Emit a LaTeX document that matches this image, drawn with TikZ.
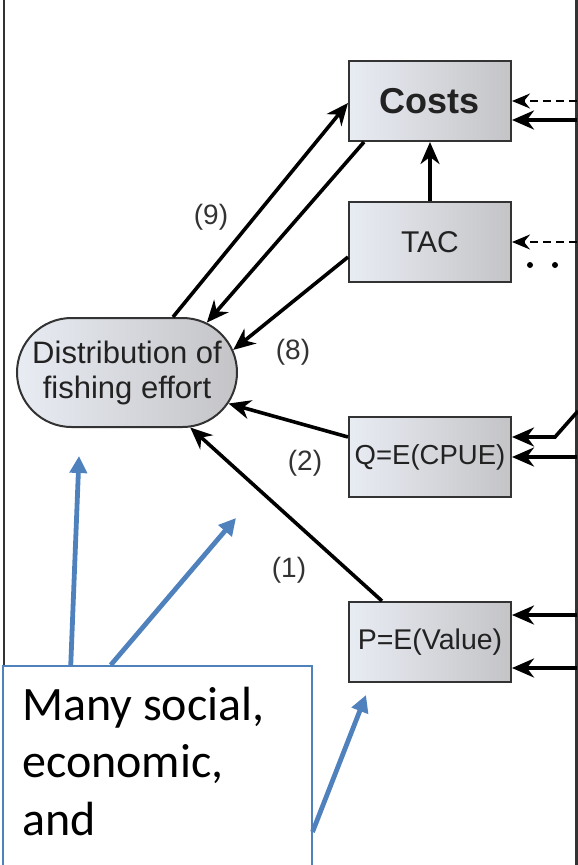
\documentclass[tikz,border=0pt]{standalone}
\usepackage{fontspec}
\setmainfont{Liberation Sans}
\newfontfamily\notefont{Carlito}
\usetikzlibrary{arrows.meta,shapes.misc}

\definecolor{boxlight}{HTML}{E8ECF3}
\definecolor{boxdark}{HTML}{C4C4C7}
\definecolor{edgegray}{HTML}{333333}
\definecolor{noteblue}{HTML}{4F81BD}
\definecolor{txt}{HTML}{222222}

\tikzset{
  stepbox/.style={draw=edgegray, line width=2pt, left color=boxlight, right color=boxdark,
    minimum width=162pt, minimum height=80pt, inner sep=0pt, text=txt},
  flow/.style={draw=black, line width=3.6pt, -{Stealth[length=22pt,width=19pt,inset=7pt]}},
  hint/.style={draw=black, line width=2pt, dash pattern=on 8pt off 5pt,
    -{Stealth[length=18pt,width=15pt,inset=6pt]}},
  frameline/.style={draw=edgegray, line width=2.8pt},
  tag/.style={font=\fontsize{28}{30}\selectfont, text=edgegray, inner sep=0pt},
  pointer/.style={draw=noteblue, line width=4.8pt, -{Triangle[length=17pt,width=17pt]}},
}

\begin{document}
\begin{tikzpicture}[x=1pt,y=-1pt]
\useasboundingbox (0,0) rectangle (578,865);

% frame edges
\coordinate (LT) at (4,0);
\coordinate (LB) at (4,700);
\coordinate (RT) at (576.5,0);
\coordinate (RB) at (576.5,865);
\draw[frameline] (LT) -- (LB);
\draw[frameline, line width=2.4pt] (RT) -- (RB);

% model boxes
\node[stepbox, font=\fontsize{36}{40}\selectfont\bfseries] (costs) at (430,101) {Costs};
\node[stepbox, font=\fontsize{30}{34}\selectfont] (tac) at (430,242) {TAC};
\node[stepbox, font=\fontsize{27.5}{30}\selectfont] (q) at (430,457) {Q=E(CPUE)};
\node[stepbox, font=\fontsize{28.5}{30}\selectfont] (p) at (430,642) {P=E(Value)};

\node[rounded rectangle, draw=edgegray, line width=2pt, left color=boxlight, right color=boxdark,
  minimum width=220pt, minimum height=109pt, inner sep=0pt, align=center, text=txt,
  font=\fontsize{31}{35}\selectfont] (dist) at (127,372.5) {Distribution of\\fishing effort};

% links between boxes
\draw[flow] (tac.north) -- (costs.south);
\draw[flow] ([xshift=46pt]dist.north) -- ([yshift=-2pt]costs.west);
\draw[flow] ([xshift=16pt]costs.south west) -- (dist.32);
\draw[flow] ([yshift=-15pt]tac.west) -- (dist.12);
\draw[flow] ([yshift=20pt]q.west) -- (dist.-17);
\draw[flow] ([xshift=-48pt]p.north) -- (dist.-41);

% inputs from the right
\coordinate (c1) at (costs.east -| RT);
\coordinate (c2) at ([yshift=-19pt]costs.east -| RT);
\coordinate (t1) at (tac.east -| RT);
\coordinate (qa) at (578,411);
\coordinate (qb) at (555,437);
\coordinate (q2) at (q.east -| RT);
\coordinate (p1) at ([yshift=27pt]p.east -| RT);
\coordinate (p2) at ([yshift=-26pt]p.east -| RT);

\draw[hint] (c1) -- (costs.east);
\draw[flow] (c2) -- ([yshift=-19pt]costs.east);
\draw[hint] (t1) -- (tac.east);
\draw[flow] (qa) -- (qb) -- ([yshift=20pt]q.east);
\draw[flow] (q2) -- (q.east);
\draw[flow] (p1) -- ([yshift=27pt]p.east);
\draw[flow] (p2) -- ([yshift=-26pt]p.east);

\fill[black] (530,265) circle (3pt) (555,265) circle (3pt);

% link labels
\node[tag] (l9) at (211,217) {(9)};
\node[tag] (l8) at (293,352) {(8)};
\node[tag] (l2) at (305,463) {(2)};
\node[tag] (l1) at (289,570) {(1)};

% note box
\node[draw=noteblue, line width=1.5pt, fill=white, minimum width=309pt, minimum height=230pt,
  inner sep=0pt, anchor=north west] (note) at (2,665) {};
\node[anchor=base west, inner sep=0pt, align=left, font=\notefont\fontsize{48}{57.5}\selectfont]
  (notetext) at (22,835) {Many social,\\economic,\\and};

\coordinate (a1) at (79,456);
\coordinate (a2) at (236,518);
\coordinate (a3) at (366,695);
\draw[pointer] ([xshift=-86.5pt]note.north) -- (a1);
\draw[pointer] ([xshift=-46.5pt]note.north) -- (a2);
\draw[pointer] ([yshift=-167pt]note.north east) -- (a3);
\end{tikzpicture}
\end{document}
